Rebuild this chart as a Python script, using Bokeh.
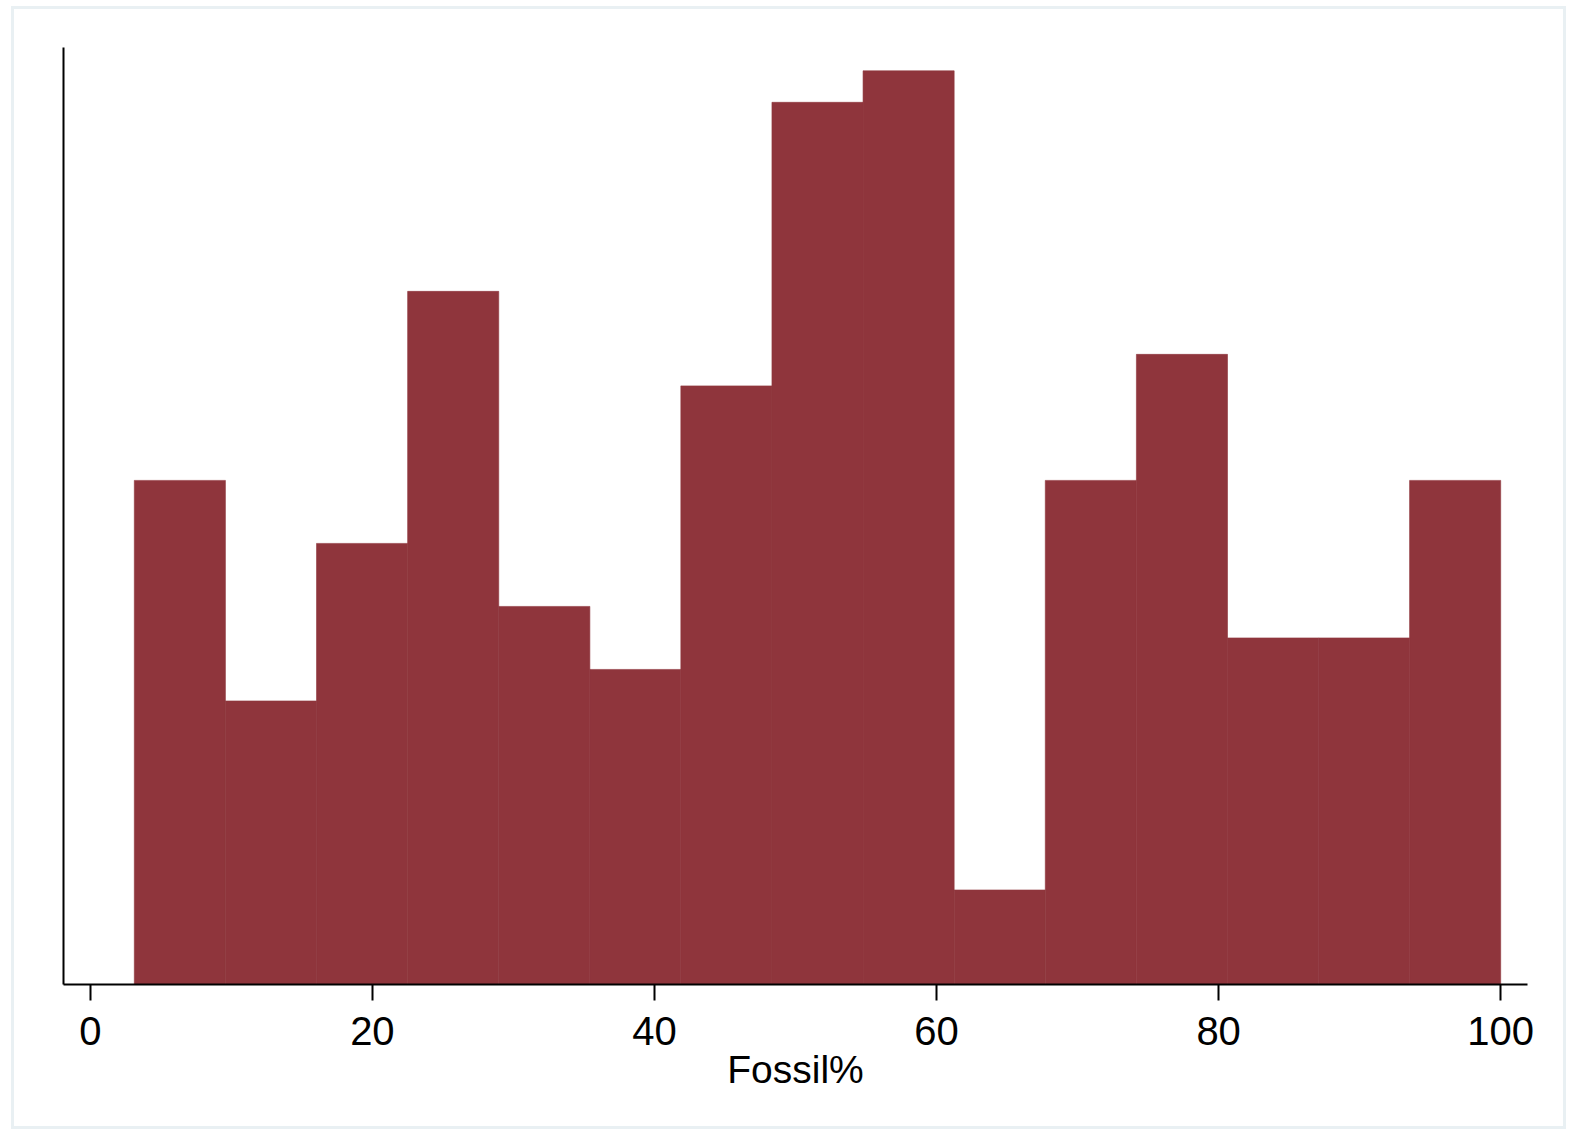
from bokeh.plotting import figure
from bokeh.models import FixedTicker, Range1d
from bokeh.embed import file_html
from bokeh.resources import INLINE

# Histogram of Fossil% (15 bins)
bin_edges = [3.12, 9.58, 16.04, 22.50, 28.96, 35.42, 41.87, 48.33,
             54.79, 61.25, 67.71, 74.17, 80.63, 87.09, 93.54, 100.0]
counts = [16, 9, 14, 22, 12, 10, 19, 28, 29, 3, 16, 20, 11, 11, 16]
x_ticks = [0, 20, 40, 60, 80, 100]
x_label = "Fossil%"

FONT = "Liberation Sans"
BAR = "#8f353c"

p = figure(width=1549, height=1117, output_backend="svg", toolbar_location=None,
           x_range=Range1d(-1.9, 101.9), y_range=Range1d(0, 29.74),
           min_border_left=49, min_border_right=36, min_border_top=38,
           min_border_bottom=142)
p.margin = (9, 0, 0, 14)
p.styles = {"outline": "3px solid #e9f0f3"}

p.quad(left=bin_edges[:-1], right=bin_edges[1:], bottom=0, top=counts,
       fill_color=BAR, line_color=BAR, line_width=0.6)

p.grid.visible = False
p.outline_line_color = None
p.background_fill_color = "white"
p.border_fill_color = "white"

xa = p.xaxis[0]
xa.ticker = FixedTicker(ticks=x_ticks)
xa.axis_label = x_label
xa.axis_label_text_font = FONT
xa.axis_label_text_font_style = "normal"
xa.axis_label_text_font_size = "39px"
xa.axis_label_text_color = "black"
xa.axis_label_standoff = 0
xa.major_label_text_font = FONT
xa.major_label_text_font_size = "40px"
xa.major_label_text_color = "black"
xa.major_label_standoff = 16
xa.axis_line_width = 2
xa.axis_line_color = "black"
xa.major_tick_line_width = 2
xa.major_tick_line_color = "black"
xa.major_tick_out = 16
xa.major_tick_in = 0
xa.minor_tick_line_color = None

ya = p.yaxis[0]
ya.ticker = FixedTicker(ticks=[])
ya.major_label_text_font_size = "0px"
ya.axis_line_width = 2
ya.axis_line_color = "black"
ya.major_tick_line_color = None
ya.minor_tick_line_color = None

open("out.html", "w").write(file_html(p, INLINE))
